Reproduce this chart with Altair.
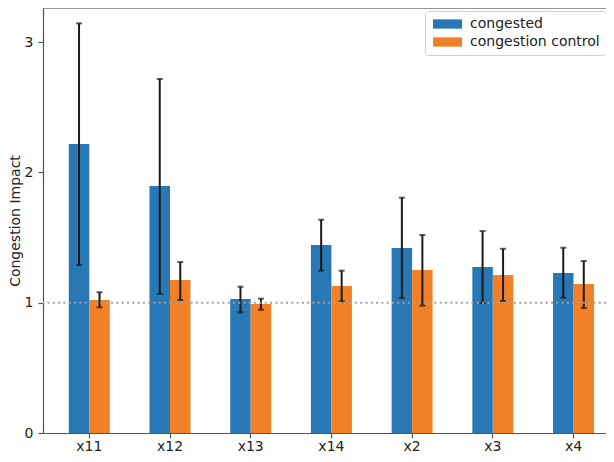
import altair as alt
import pandas as pd

categories = ["x11", "x12", "x13", "x14", "x2", "x3", "x4"]
series = ["congested", "congestion control"]

congested = [2.218, 1.896, 1.028, 1.443, 1.420, 1.274, 1.228]
congested_lo = [1.289, 1.067, 0.926, 1.246, 1.036, 0.998, 1.038]
congested_hi = [3.144, 2.717, 1.123, 1.637, 1.806, 1.550, 1.422]

control = [1.021, 1.174, 0.990, 1.128, 1.251, 1.213, 1.144]
control_lo = [0.965, 1.021, 0.946, 1.011, 0.977, 1.013, 0.959]
control_hi = [1.080, 1.312, 1.031, 1.246, 1.520, 1.414, 1.320]

ref_value = [1.0]

rows = []
for i, c in enumerate(categories):
    rows.append(dict(cat=c, series=series[0], value=congested[i], lo=congested_lo[i], hi=congested_hi[i]))
    rows.append(dict(cat=c, series=series[1], value=control[i], lo=control_lo[i], hi=control_hi[i]))
df = pd.DataFrame(rows)

W, H = 563, 425
FONT = "DejaVu Sans"
FS = 14
AX = "#555555"
TXT = "#222222"

xscale = alt.Scale(paddingInner=0.492, paddingOuter=0.234, align=0.683)
xaxis = alt.Axis(title=None, labelAngle=0, labelFontSize=FS, labelFont=FONT, labelColor=TXT,
                 tickSize=5, tickColor=AX, domainColor=AX, domainWidth=1.2, tickWidth=1.2,
                 labelBaseline="alphabetic", labelPadding=12.5)
x = alt.X("cat:N", sort=categories, scale=xscale, axis=xaxis)
xo = alt.XOffset("series:N", sort=series, scale=alt.Scale(paddingInner=0, paddingOuter=0))
yscale = alt.Scale(domain=[0, 3.262], nice=False, zero=True)
yaxis = alt.Axis(values=[0, 1, 2, 3], format="d", title="Congestion Impact", grid=False,
                 labelFontSize=FS, labelFont=FONT, labelColor=TXT, titleFont=FONT,
                 titleFontSize=FS, titleFontWeight="normal", titleColor=TXT, tickSize=5,
                 tickColor=AX, domainColor=AX, domainWidth=1.2, tickWidth=1.2,
                 labelPadding=5, titleX=-35, titleBaseline="top")

color = alt.Color("series:N", sort=series,
                  scale=alt.Scale(domain=series, range=["#2878b5", "#f28026"]),
                  legend=alt.Legend(title=None, orient="none", legendX=382, legendY=3,
                                    labelFont=FONT, labelFontSize=FS, labelColor=TXT,
                                    symbolType="M-1,-0.93H4.8V0.93H-1Z", symbolSize=100,
                                    symbolStrokeWidth=0, symbolOpacity=1,
                                    labelOffset=25, padding=6, rowPadding=4,
                                    strokeColor="#d0d0d0", fillColor="white", cornerRadius=3))

bars = alt.Chart(df).mark_bar().encode(
    x=x, xOffset=xo, y=alt.Y("value:Q", scale=yscale, axis=yaxis), color=color)

err = alt.Chart(df).mark_rule(color="#1a1a1a", strokeWidth=2).encode(
    x=x, xOffset=xo, y=alt.Y("lo:Q", scale=yscale), y2="hi:Q")
cap_hi = alt.Chart(df).mark_tick(color="#1a1a1a", size=6, thickness=2).encode(
    x=x, xOffset=xo, y=alt.Y("hi:Q", scale=yscale))
cap_lo = alt.Chart(df).mark_tick(color="#1a1a1a", size=6, thickness=2).encode(
    x=x, xOffset=xo, y=alt.Y("lo:Q", scale=yscale))

ref = alt.Chart(pd.DataFrame({"y": ref_value})).mark_rule(
    color="#a0a0a0", strokeWidth=2, strokeDash=[2, 3.3]).encode(y=alt.Y("y:Q", scale=yscale))

top = alt.Chart(pd.DataFrame({"y": ref_value})).mark_rule(color=AX, strokeWidth=1.2).encode(
    x=alt.value(0), x2=alt.value(W), y=alt.value(0))

chart = alt.layer(bars, err, cap_hi, cap_lo, ref, top).properties(
    width=W, height=H,
    autosize=alt.AutoSizeParams(type="none"),
    padding={"left": 35, "top": 0, "right": 0, "bottom": 21},
).configure_view(stroke=None).configure(background="white")

chart.save("out.html", embed_options={"renderer": "svg", "actions": False})
